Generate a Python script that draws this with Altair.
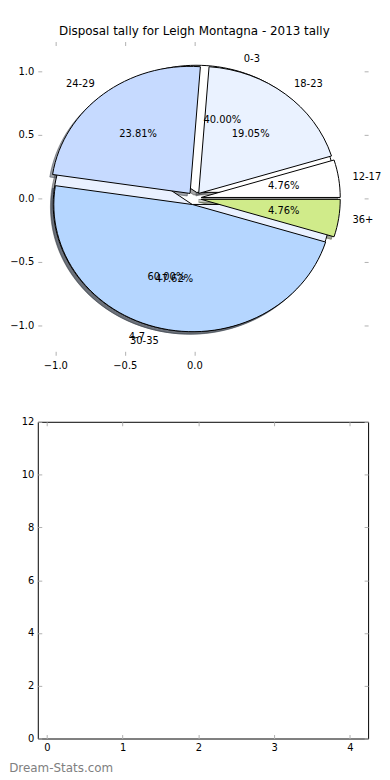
import altair as alt
import pandas as pd

# ---------------- data ----------------
TITLE = "Disposal tally for Leigh Montagna - 2013 tally"
WATERMARK = "Dream-Stats.com"

inner_labels = ["0-3", "4-7"]
inner_counts = [2, 3]
inner_colors = ["#FFFFFF", "#EAF1FF"]

outer_labels = ["12-17", "18-23", "24-29", "30-35", "36+"]
outer_counts = [1, 4, 5, 10, 1]
outer_colors = ["#FFFFFF", "#EAF2FF", "#C6DAFF", "#B5D6FF", "#D0EB8A"]

pie_x_ticks = [-1.0, -0.5, 0.0]
pie_y_ticks = [-1.0, -0.5, 0.0, 0.5, 1.0]
grid_x_ticks = [0, 1, 2, 3, 4]
grid_y_ticks = [0, 2, 4, 6, 8, 10, 12]

# ---------------- layout / style ----------------
FONT = "DejaVu Sans"
PX, PY = 140.0, 128.0          # pixels per data unit (x, y) in the pie axes
LEFT = 37.3                    # page x of the plot areas' left edge
RIGHT = 370.0
CENTER_X = 195.0
X_MIN = (LEFT - CENTER_X) / PX
X_MAX = (RIGHT - CENTER_X) / PX
Y_LIM = 1.234
TOP_W = RIGHT - LEFT
TOP_H = round(PY * 2 * Y_LIM)
BOT_H = 319
BOT_DOMAIN = [-0.12, 4.24]

EXPLODE = 0.05
SHADOW = -0.02
SY = PY / PX
SIZE = (2 * PX) ** 2
TS = 4
TICK_COLOR = "#b0b0b0"


def ax(orient, values, labels=True, fmt=None, pad=3):
    kw = dict(orient=orient, values=values, offset=-TS, tickSize=TS,
              tickColor=TICK_COLOR, tickWidth=1, domain=False, grid=False,
              title=None, labels=labels)
    if labels:
        kw.update(labelFont=FONT, labelFontSize=10, labelColor="black",
                  labelPadding=pad, labelFlush=False)
        if fmt:
            kw["format"] = fmt
    return alt.Axis(**kw)


pie_df = pd.DataFrame({
    "pie": [1] * len(inner_labels) + [2] * len(outer_labels),
    "idx": list(range(len(inner_labels))) + list(range(len(outer_labels))),
    "label": inner_labels + outer_labels,
    "count": inner_counts + outer_counts,
    "color": inner_colors + outer_colors,
})


def R(e):
    return f"(round(({e})*10000)/10000)"


path_expr = (
    "'M0,0 L' + " + R("cos(datum.a0)") + " + ',' + " + R(f"-{SY}*sin(datum.a0)")
    + f" + ' A1,{SY:.4f} 0 ' + ((datum.a1 - datum.a0) > PI ? '1' : '0') + ',0 ' + "
    + R("cos(datum.a1)") + " + ',' + " + R(f"-{SY}*sin(datum.a1)") + " + ' Z'"
)

base = (
    alt.Chart(pie_df)
    .transform_window(cum="sum(count)", groupby=["pie"],
                      sort=[alt.SortField("idx")], frame=[None, 0])
    .transform_joinaggregate(total="sum(count)", groupby=["pie"])
    .transform_calculate(
        a0="2*PI*(datum.cum - datum.count)/datum.total",
        a1="2*PI*datum.cum/datum.total",
    )
    .transform_calculate(
        mid="(datum.a0 + datum.a1)/2",
        pct="format(100*datum.count/datum.total, '.2f') + '%'",
        path=path_expr,
        shade="'rgb(' + 0.3*rgb(datum.color).r + ',' + 0.3*rgb(datum.color).g + ',' + 0.3*rgb(datum.color).b + ')'",
    )
    .transform_calculate(
        cx=f"{EXPLODE}*cos(datum.mid)",
        cy=f"{EXPLODE}*sin(datum.mid)",
    )
    .transform_calculate(
        shx=f"datum.cx + ({SHADOW})",
        shy=f"datum.cy + ({SHADOW})",
        lx="datum.cx + 1.1*cos(datum.mid)",
        ly="datum.cy + 1.1*sin(datum.mid)",
        px="datum.cx + 0.6*cos(datum.mid)",
        py="datum.cy + 0.6*sin(datum.mid)",
    )
)

xs = alt.Scale(domain=[X_MIN, X_MAX], nice=False, zero=False)
ys = alt.Scale(domain=[-Y_LIM, Y_LIM], nice=False, zero=False)

shadow = base.mark_point(filled=True, fillOpacity=0.5, strokeOpacity=0.5,
                         strokeWidth=1, opacity=1).encode(
    x=alt.X("shx:Q", scale=xs, axis=ax("bottom", pie_x_ticks, fmt=".1f", pad=5)),
    y=alt.Y("shy:Q", scale=ys, axis=ax("left", pie_y_ticks, fmt=".1f", pad=4)),
    shape=alt.Shape("path:N", scale=None, legend=None),
    size=alt.value(SIZE),
    fill=alt.Fill("shade:N", scale=None, legend=None),
    stroke=alt.Stroke("shade:N", scale=None, legend=None),
)


def wedges(pie, with_axes):
    if with_axes:
        xa = ax("top", pie_x_ticks, labels=False)
        ya = ax("right", pie_y_ticks, labels=False)
    else:
        xa = None
        ya = None
    return base.transform_filter(f"datum.pie == {pie}").mark_point(
        filled=True, stroke="black", strokeWidth=1, opacity=1,
        fillOpacity=1, strokeOpacity=1).encode(
        x=alt.X("cx:Q", scale=xs, axis=xa),
        y=alt.Y("cy:Q", scale=ys, axis=ya),
        shape=alt.Shape("path:N", scale=None, legend=None),
        size=alt.value(SIZE),
        fill=alt.Fill("color:N", scale=None, legend=None),
    )


def texts(field_x, field_y, field_t, align, flt=None):
    c = base
    if flt:
        c = c.transform_filter(flt)
    return c.mark_text(align=align, baseline="middle", font=FONT, fontSize=10,
                       color="black").encode(
        x=alt.X(f"{field_x}:Q", scale=xs, axis=None),
        y=alt.Y(f"{field_y}:Q", scale=ys, axis=None),
        text=f"{field_t}:N",
    )


top = alt.layer(
    shadow,
    wedges(1, True),
    wedges(2, False),
    texts("lx", "ly", "label", "left", "datum.lx > 0"),
    texts("lx", "ly", "label", "right", "datum.lx <= 0"),
    texts("px", "py", "pct", "center"),
).resolve_axis(x="independent", y="independent").properties(
    width=TOP_W, height=TOP_H,
    title=alt.TitleParams(TITLE, font=FONT, fontSize=12, fontWeight="normal",
                          anchor="middle", color="black",
                          dx=CENTER_X - (LEFT + RIGHT) / 2, offset=3),
    view=alt.ViewBackground(stroke="transparent"),
)

# ---------------- empty lower axes ----------------
grid_df = pd.DataFrame({"y": grid_y_ticks})
bxs = alt.Scale(domain=BOT_DOMAIN, nice=False, zero=False)
bys = alt.Scale(domain=[grid_y_ticks[0], grid_y_ticks[-1]], nice=False, zero=False)

b1 = alt.Chart(grid_df).transform_calculate(x="0").mark_point(opacity=0).encode(
    x=alt.X("x:Q", scale=bxs, axis=ax("bottom", grid_x_ticks, fmt="d", pad=4)),
    y=alt.Y("y:Q", scale=bys, axis=ax("left", grid_y_ticks, fmt="d", pad=4)),
)
b2 = alt.Chart(grid_df).transform_calculate(x="0").mark_point(opacity=0).encode(
    x=alt.X("x:Q", scale=bxs, axis=ax("top", grid_x_ticks, labels=False)),
    y=alt.Y("y:Q", scale=bys, axis=ax("right", grid_y_ticks, labels=False)),
)
wm = alt.Chart(pd.DataFrame({"t": [WATERMARK]})).mark_text(
    align="left", baseline="middle", font=FONT, fontSize=12, color="#808080"
).encode(
    x=alt.value(8.5 - LEFT),
    y=alt.value(BOT_H + 30),
    text="t:N",
)

bottom = alt.layer(b1, b2, wm).resolve_axis(x="independent", y="independent").properties(
    width=RIGHT - LEFT, height=BOT_H,
    view=alt.ViewBackground(stroke="black", strokeWidth=1),
)

chart = alt.vconcat(top, bottom, spacing=67, bounds="flush").properties(
    padding={"left": 0, "top": 14, "right": 0, "bottom": 0},
)

chart.save("out.html", embed_options={"renderer": "svg", "actions": False})
